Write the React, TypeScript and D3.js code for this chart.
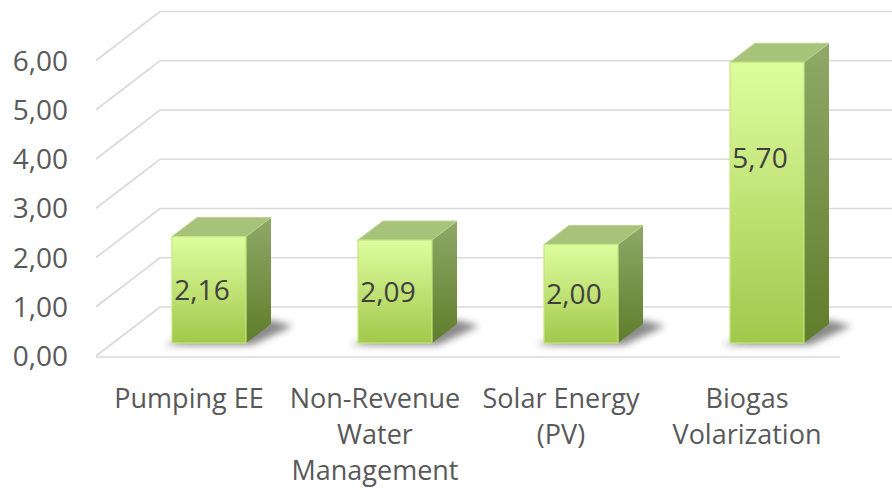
import React, { useEffect, useRef } from "react";
import * as d3 from "d3";

const categories = [
  "Pumping EE",
  "Non-Revenue Water Management",
  "Solar Energy (PV)",
  "Biogas Volarization",
];
const values = [2.16, 2.09, 2.0, 5.7];
const yTicks = [0, 1, 2, 3, 4, 5, 6];

const W = 892;
const H = 490;
const font = "'Open Sans', sans-serif";

const fmt = (v: number) => d3.format(".2f")(v).replace(".", ",");

export default function App() {
  const ref = useRef<SVGSVGElement>(null);

  useEffect(() => {
    const svg = d3.select(ref.current);
    svg.selectAll("*").remove();

    // front plane of the 3d box, plus depth vector to the back wall
    const left = 96;
    const right = 840;
    const depth = { x: 64, y: -49 };
    // bar placement inside the depth
    const barOff = { x: 20, y: -13 };
    const barDepth = { x: 25, y: -19 };

    const x = d3.scaleBand().domain(categories).range([left, right]);
    const y = d3.scaleLinear().domain([0, 6]).range([356, 60.5]);
    const barW = 74;

    const defs = svg.append("defs");
    const gFront = defs.append("linearGradient").attr("id", "front")
      .attr("x1", 0).attr("y1", 0).attr("x2", 0).attr("y2", 1);
    gFront.append("stop").attr("offset", "0%").attr("stop-color", "#defd9f");
    gFront.append("stop").attr("offset", "100%").attr("stop-color", "#a2c84b");
    const gSide = defs.append("linearGradient").attr("id", "side")
      .attr("x1", 0).attr("y1", 0).attr("x2", 0).attr("y2", 1);
    gSide.append("stop").attr("offset", "0%").attr("stop-color", "#8fa968");
    gSide.append("stop").attr("offset", "100%").attr("stop-color", "#5f7d2a");
    defs.append("filter").attr("id", "blur")
      .attr("x", "-50%").attr("y", "-50%").attr("width", "200%").attr("height", "200%")
      .append("feGaussianBlur").attr("stdDeviation", 3.5);

    // gridlines: diagonal on the left wall then across the back wall
    const grid = svg.append("g").attr("fill", "none")
      .attr("stroke", "#d9d9d9").attr("stroke-width", 1.6);
    yTicks.forEach((t) => {
      const yf = y(t);
      grid.append("path")
        .attr("d", `M${left},${yf}L${left + depth.x},${yf + depth.y}L${W},${yf + depth.y}`);
    });
    // floor front edge
    grid.append("path").attr("d", `M${left},${y(0) + 1}L${right},${y(0) + 1}`);

    // y tick labels
    svg.append("g").selectAll("text").data(yTicks).enter().append("text")
      .attr("x", 68)
      .attr("y", (d) => y(d))
      .attr("dy", "0.36em")
      .attr("text-anchor", "end")
      .attr("font-family", font)
      .attr("font-size", 28)
      .attr("fill", "#595959")
      .text((d) => fmt(d));

    const bars = svg.append("g");
    categories.forEach((c, i) => {
      const v = values[i];
      const x0 = (x(c) as number) + x.bandwidth() / 2 - barW / 2 + barOff.x;
      const x1 = x0 + barW;
      const yb = y(0) + barOff.y;
      const yt = y(v) + barOff.y;
      const dx = barDepth.x;
      const dy = barDepth.y;

      // soft shadow on the floor
      bars.append("path")
        .attr("d", `M${x0 - 8},${yb + 2}L${x1 + 6},${yb + 2}L${x1 + dx + 22},${yb + dy + 2}L${x1 + dx},${yb + dy - 4}L${x0 + 10},${yb - 4}Z`)
        .attr("fill", "#2b2b2b").attr("opacity", 0.55).attr("filter", "url(#blur)");

      // side face
      bars.append("path")
        .attr("d", `M${x1},${yt}L${x1 + dx},${yt + dy}L${x1 + dx},${yb + dy}L${x1},${yb}Z`)
        .attr("fill", "url(#side)");
      // top face
      bars.append("path")
        .attr("d", `M${x0},${yt}L${x0 + dx},${yt + dy}L${x1 + dx},${yt + dy}L${x1},${yt}Z`)
        .attr("fill", "#a7c37a").attr("stroke", "#b9d38e").attr("stroke-width", 1);
      // front face
      bars.append("rect")
        .attr("x", x0).attr("y", yt).attr("width", barW).attr("height", yb - yt)
        .attr("fill", "url(#front)")
        .attr("stroke", "#c4e77f").attr("stroke-width", 1.2);

      const ly = Math.min((yt + yb) / 2, yt + 96);
      bars.append("text")
        .attr("x", x0 + barW / 2 - 7)
        .attr("y", ly)
        .attr("dy", "0.36em")
        .attr("text-anchor", "middle")
        .attr("font-family", font)
        .attr("font-size", 28)
        .attr("fill", "#404040")
        .text(fmt(v));
    });

    // category labels, wrapped to the band width
    const cats = svg.append("g");
    categories.forEach((c) => {
      const cx = (x(c) as number) + x.bandwidth() / 2;
      const words = c.split(" ");
      const lines: string[] = [];
      const probe = cats.append("text").attr("font-family", font).attr("font-size", 27);
      let cur = "";
      words.forEach((w) => {
        const test = cur ? cur + " " + w : w;
        probe.text(test);
        const len = (probe.node() as SVGTextElement).getComputedTextLength();
        if (len > 180 && cur) {
          lines.push(cur);
          cur = w;
        } else cur = test;
      });
      if (cur) lines.push(cur);
      probe.remove();
      lines.forEach((l, j) => {
        cats.append("text")
          .attr("x", cx)
          .attr("y", 408 + j * 36)
          .attr("text-anchor", "middle")
          .attr("font-family", font)
          .attr("font-size", 27)
          .attr("fill", "#595959")
          .text(l);
      });
    });
  }, []);

  return (
    <svg
      ref={ref}
      width={W}
      height={H}
      style={{ position: "absolute", left: 0, top: 0, background: "#fff" }}
    />
  );
}
